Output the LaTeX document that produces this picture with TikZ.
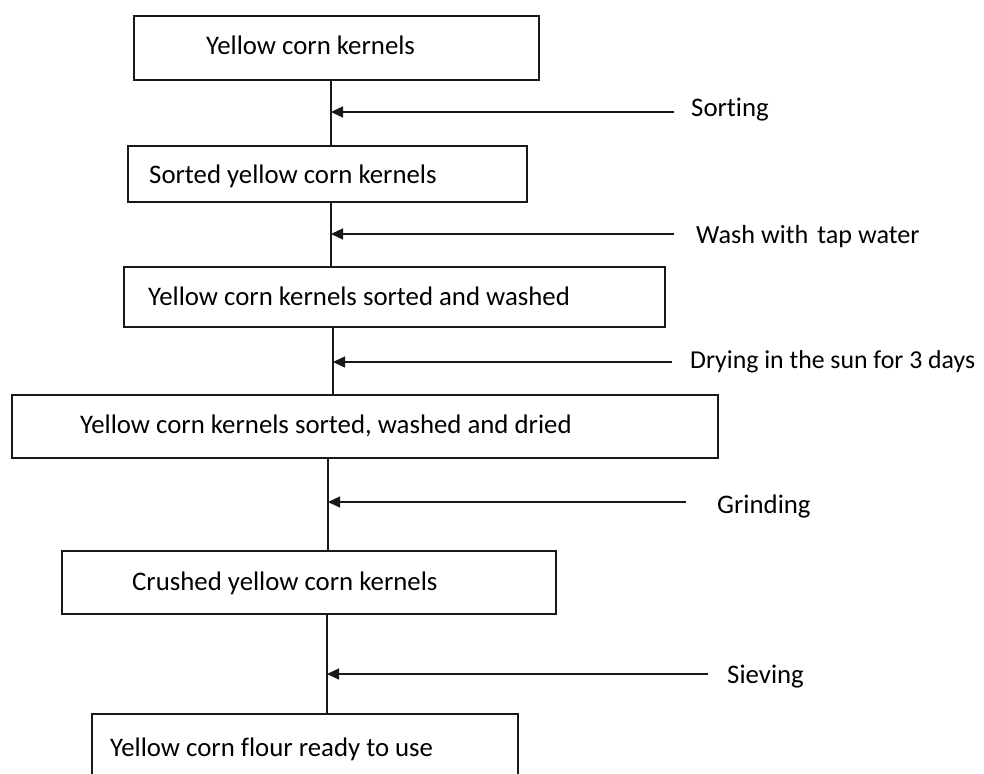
\documentclass[tikz,border=0pt]{standalone}
\usepackage{fontspec}
\setmainfont{Carlito}[RawFeature=-liga]
\usetikzlibrary{arrows.meta}
\begin{document}
\begin{tikzpicture}[x=1pt,y=-1pt,
  box/.style={draw=black!90,line width=1.6pt,minimum width=#1,inner sep=0pt},
  txt/.style={anchor=base west,inner sep=0pt,font=\fontsize{26.8}{30}\selectfont},
  trunk/.style={draw=black!90,line width=1.4pt},
  arr/.style={draw=black!90,line width=1.4pt,-{Triangle[length=12pt,width=11pt]}}]
\useasboundingbox (0,0) rectangle (984,773);
% boxes
\node[box=405pt,minimum height=64pt] (b1) at (336.5,48) {};
\node[box=399pt,minimum height=56pt] (b2) at (327.5,174) {};
\node[box=541pt,minimum height=60pt] (b3) at (394.5,297) {};
\node[box=706pt,minimum height=63pt] (b4) at (365,426.5) {};
\node[box=494pt,minimum height=63pt] (b5) at (309,582.5) {};
\node[box=426pt,minimum height=80pt] (b6) at (305,754) {};
% box texts
\node[txt] (t1) at (206,55) {Yellow corn kernels};
\node[txt] (t2) at (149,183) {Sorted yellow corn kernels};
\node[txt] (t3) at (148,305) {Yellow corn kernels sorted and washed};
\node[txt] (t4) at (80,433) {Yellow corn kernels sorted, washed and dried};
\node[txt] (t5) at (132,590) {Crushed yellow corn kernels};
\node[txt] (t6) at (110,756) {Yellow corn flour ready to use};
% junctions on trunk
\coordinate (j1) at (331,112);
\coordinate (j2) at (331,234);
\coordinate (j3) at (333,362);
\coordinate (j4) at (328,502);
\coordinate (j5) at (327,674);
% trunk lines
\draw[trunk] (b1.south -| j1) -- (b2.north -| j1);
\draw[trunk] (b2.south -| j2) -- (b3.north -| j2);
\draw[trunk] (b3.south -| j3) -- (b4.north -| j3);
\draw[trunk] (b4.south -| j4) -- (b5.north -| j4);
\draw[trunk] (b5.south -| j5) -- (b6.north -| j5);
% process labels
\node[txt] (l1) at (691,117) {Sorting};
\node[txt,font=\fontsize{26.2}{30}\selectfont] (l2) at (696,243) {Wash with\hspace{0.12em} tap water};
\node[txt,font=\fontsize{25.8}{30}\selectfont] (l3) at (690,368) {Drying in the sun for 3 days};
\node[txt] (l4) at (717,513) {Grinding};
\node[txt] (l5) at (727,683) {Sieving};
% arrow starts
\coordinate (a1) at (674,112);
\coordinate (a2) at (674,234);
\coordinate (a3) at (672,362);
\coordinate (a4) at (686,502);
\coordinate (a5) at (708,674);
\draw[arr] (a1) -- (j1);
\draw[arr] (a2) -- (j2);
\draw[arr] (a3) -- (j3);
\draw[arr] (a4) -- (j4);
\draw[arr] (a5) -- (j5);
\end{tikzpicture}
\end{document}
